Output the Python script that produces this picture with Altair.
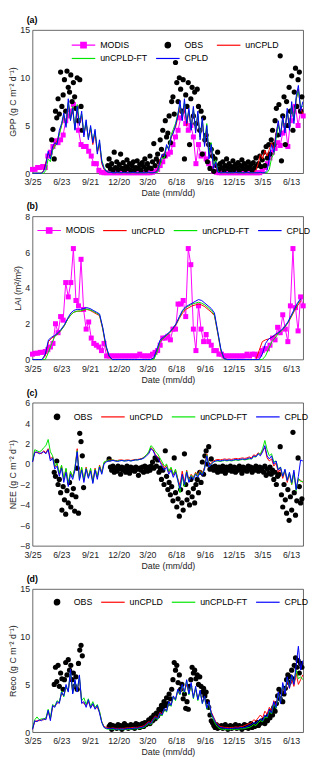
import altair as alt
import pandas as pd

FONT = "Liberation Sans"

TICK_DAYS = [0, 90, 180, 270, 360, 450, 540, 630, 720, 810]
TICK_LABELS = ["3/25", "6/23", "9/21", "12/20", "3/20", "6/18", "9/16", "12/15", "3/15", "6/13"]

DAYS7 = list(range(0, 848, 7))    # model GPP / NEE / Reco samples
DAYS10 = list(range(0, 841, 10))  # model LAI samples
DAYS8 = list(range(0, 849, 8))    # MODIS 8-day composites
DAYS4 = list(range(0, 845, 4))    # observation samples

# ---------------- (a) GPP ----------------
GPP_MODIS = [0.4, 0.4, 0.6, 0.6, 0.7, 0.6, 1.8, 2.2, 2.8, 3.4,
             3.2, 3.5, 4.0, 5.5, 6.0, 6.5, 7.2, 6.8, 4.5, 3.0,
             2.8, 2.8, 2.3, 1.8, 1.0, 1.0, 0.3, 0.1, 0.05, 0.05,
             0.05, 0.05, 0.05, 0.05, 0.05, 0.05, 0.05, 0.05, 0.05, 0.05,
             0.05, 0.05, 0.05, 0.05, 0.05, 0.05, 0.05, 0.1, 0.2, 0.4,
             0.8, 1.2, 1.8, 2.0, 2.2, 3.0, 3.8, 4.5, 5.8, 6.5,
             5.2, 4.5, 5.0, 3.8, 1.0, 3.0, 1.8, 2.0, 1.5, 1.0,
             0.5, 0.2, 0.1, 0.05, 0.05, 0.05, 0.05, 0.05, 0.05, 0.05,
             0.05, 0.05, 0.05, 0.05, 0.05, 0.05, 0.05, 0.05, 0.05, 0.05,
             0.2, 0.6, 1.0, 1.6, 2.2, 2.6, 3.2, 2.9, 4.2, 5.0,
             2.8, 5.5, 6.5, 7.0, 5.0, 6.5, 6.0]

GPP_OBS = [None, None, None, None, None, None, None, None, None, None,
           None, None, None, None, None,
           3.5, 4.6, 1.5, 6.5, 5.8, 7.8, 6.2, 10.6, 7.0, 8.2, 9.8, 6.5, 10.7, 9.0, 8.5,
           10.3, 7.5, 9.5, 8.0, 6.8, 10.0, 5.5, 9.8, 7.0, 4.5,
           None, None, None, None, None, None, None, None, None, None,
           None, None, None, None, None, None, None, None, None,
           0.8, 1.5, 0.5, 1.0, 0.3, 2.2, 0.6, 1.2, 0.4, 0.9, 2.0, 0.5, 1.1, 0.3, 0.7,
           1.4, 0.5, 1.0, 0.3, 0.8, 1.2, 0.4, 0.6, 1.3, 0.5, 0.9, 0.3, 1.1, 0.7, 1.5,
           0.4, 1.0, 0.6, 1.8, 0.5, 1.2, 3.1, 0.8, 1.5,
           2.0, 1.2, 3.5, 2.5, 4.5, 1.8, 5.5, 3.8, 4.2, 6.0, 3.2, 7.5,
           8.0, 6.2, 11.6, 9.5, 7.5, 10.0, 8.8, 6.5, 9.8, 1.5, 8.2, 7.0, 9.5, 3.0, 7.8,
           9.0, 6.0, 8.5, 5.2, 8.8, 7.0, 4.5, 6.5, 2.0, 5.8, 3.5,
           4.0, 1.2, 3.0, 0.5, 2.5, 1.8, 0.2, 1.5, 0.8, 2.2, 0.4, 1.0,
           0.6, 1.2, 0.3, 0.8, 1.5, 0.5, 1.0, 0.3, 0.7, 1.3, 0.4, 0.9, 0.6, 1.1, 0.3,
           0.8, 1.4, 0.5, 1.0, 0.4, 0.7, 1.2, 0.5, 0.9, 0.3, 1.1, 0.6, 1.6, 0.8, 1.0,
           1.8, 0.7,
           1.4, 2.2, 0.8, 2.8, 1.6, 3.0, 2.0, 3.5, 4.5, 3.0,
           5.5, 6.8, 4.0, 7.2, 12.3, 1.3, 6.0, 8.0, 3.0, 7.5, 5.0, 9.0, 6.5, 10.2, 4.5,
           8.5, 11.0, 7.0, 9.8, 10.6, 6.5, 8.0]

GPP_UNCPLD = [0, 0, 0, 0, 0, 0.3, 1.2, 2.0, 1.8, 2.6,
              3.0, 3.4, 4.2, 5.0, 6.0, 5.2, 7.2, 5.8, 6.5, 4.8,
              6.6, 5.2, 6.0, 4.0, 5.2, 3.8, 4.6, 3.0, 4.2, 2.2,
              3.0, 1.0, 0.4, 0.2, 0.1, 0.1, 0.05, 0.05, 0.05, 0.05,
              0.05, 0.05, 0.05, 0.05, 0.05, 0.05, 0.05, 0.05, 0.05, 0.05,
              0.05, 0.05, 0.05, 0.05, 0.05, 0.1, 0.4, 1.4, 1.8, 2.0,
              2.8, 2.6, 3.6, 4.4, 4.8, 5.8, 7.0, 5.8, 7.2, 5.0,
              6.5, 4.8, 6.6, 4.4, 6.0, 3.8, 5.4, 3.0, 4.6, 1.8,
              2.6, 0.6, 1.0, 0.1, 0.05, 0.05, 0.05, 0.05, 0.05, 0.05,
              0.05, 0.05, 0.05, 0.05, 0.05, 0.05, 0.05, 0.05, 0.05, 0.05,
              0.3, 1.0, 2.0, 1.5, 2.4, 1.8, 2.5, 3.2, 2.6, 4.2,
              5.2, 4.0, 5.8, 4.5, 6.5, 4.8, 7.2, 5.5, 7.6, 8.8,
              6.8, 6.2]
GPP_FT = [0, 0, 0, 0, 0, 0, 0.3, 1.5, 1.2, 2.4,
          2.8, 3.2, 4.0, 5.0, 6.2, 5.0, 7.4, 5.6, 7.0, 4.6,
          7.2, 5.4, 6.2, 4.2, 5.4, 3.6, 4.8, 3.4, 4.4, 2.4,
          3.2, 1.4, 0.6, 0.3, 0.1, 0.1, 0.05, 0.05, 0.05, 0.05,
          0.05, 0.05, 0.05, 0.05, 0.05, 0.05, 0.05, 0.05, 0.05, 0.05,
          0.05, 0.05, 0.05, 0.05, 0.05, 0.05, 0.1, 0.8, 1.6, 1.6,
          2.8, 2.6, 4.0, 4.6, 5.2, 6.2, 7.2, 5.8, 7.4, 5.4,
          6.6, 4.6, 6.8, 4.6, 6.2, 3.8, 5.6, 3.2, 5.2, 2.0,
          3.2, 0.8, 1.4, 0.2, 0.05, 0.05, 0.05, 0.05, 0.05, 0.05,
          0.05, 0.05, 0.05, 0.05, 0.05, 0.05, 0.05, 0.05, 0.05, 0.05,
          0.05, 0.05, 0.05, 0.05, 0.05, 0.05, 0.4, 1.6, 2.0, 3.6,
          5.0, 4.2, 5.6, 4.6, 6.4, 5.0, 7.0, 5.6, 7.8, 8.6,
          7.0, 7.0]
GPP_CPLD = [0, 0, 0, 0, 0, 0.2, 1.0, 2.3, 1.5, 2.8,
            3.2, 3.0, 4.5, 5.2, 6.3, 4.8, 7.8, 5.5, 6.8, 4.5,
            7.0, 5.0, 6.5, 3.8, 5.6, 3.5, 5.0, 3.2, 4.6, 2.0,
            3.5, 1.2, 0.5, 0.2, 0.1, 0.1, 0.05, 0.05, 0.1, 0.05,
            0.05, 0.1, 0.05, 0.05, 0.05, 0.1, 0.05, 0.05, 0.05, 0.05,
            0.05, 0.05, 0.1, 0.05, 0.05, 0.1, 0.3, 1.2, 2.0, 1.8,
            3.0, 2.4, 3.8, 4.2, 5.0, 6.0, 7.6, 5.5, 7.8, 5.2,
            6.8, 4.5, 7.0, 4.2, 6.5, 3.5, 5.8, 2.8, 5.0, 1.5,
            3.0, 0.5, 1.2, 0.1, 0.05, 0.05, 0.1, 0.05, 0.05, 0.05,
            0.05, 0.1, 0.05, 0.05, 0.05, 0.05, 0.1, 0.05, 0.05, 0.05,
            0.05, 0.05, 0.1, 0.05, 0.05, 0.3, 1.5, 3.0, 2.2, 4.0,
            5.5, 3.8, 6.0, 4.2, 6.8, 4.5, 7.5, 5.2, 8.0, 9.2,
            6.5, 7.5]

# ---------------- (b) LAI ----------------
LAI_MODIS = [0.3, 0.35, 0.35, 0.4, 0.4, 0.45, 0.55, 0.7, 0.9, 2.0,
             1.5, 2.4, 2.2, 4.3, 3.5, 4.3, 6.2, 3.3, 3.0, 5.6,
             2.8, 1.7, 2.1, 1.2, 0.9, 0.8, 0.7, 0.5, 0.9, 0.2,
             0.2, 0.2, 0.2, 0.2, 0.2, 0.2, 0.2, 0.2, 0.2, 0.2,
             0.2, 0.2, 0.3, 0.2, 0.2, 0.2, 0.2, 0.3, 0.4, 0.5,
             0.8, 1.2, 1.2, 1.3, 1.1, 1.7, 1.7, 3.1, 3.1, 3.3,
             2.4, 6.2, 5.3, 1.7, 0.5, 3.0, 1.7, 1.0, 1.4, 1.0,
             0.8, 0.5, 0.5, 0.3, 0.3, 0.2, 0.2, 0.2, 0.2, 0.2,
             0.2, 0.2, 0.2, 0.2, 0.3, 0.2, 0.3, 0.3, 0.2, 0.3,
             0.5, 0.6, 0.6, 0.8, 1.2, 1.1, 1.8, 1.5, 2.5, 1.7,
             1.0, 3.0, 6.2, 2.9, 1.6, 3.5, 3.0]
LAI_UNCPLD = [0, 0, 0, 0, 0.2, 1.0, 1.2, 1.3, 1.45, 1.65,
              1.9, 2.25, 2.5, 2.65, 2.7, 2.7, 2.75, 2.8, 2.75, 2.65,
              2.55, 2.45, 1.7, 0.7, 0.15, 0, 0, 0, 0, 0,
              0, 0, 0, 0, 0, 0, 0, 0, 0.05, 0.5,
              1.0, 1.2, 1.35, 1.5, 1.7, 1.95, 2.3, 2.6, 2.8, 2.9,
              3.0, 3.05, 3.1, 3.05, 2.95, 2.8, 2.65, 2.45, 1.5, 0.5,
              0.05, 0, 0, 0, 0, 0, 0, 0, 0, 0,
              0, 0.5, 1.0, 1.1, 1.15, 1.25, 1.35, 1.5, 1.6, 1.8,
              2.05, 2.35, 2.7, 3.0, 3.25]
LAI_FT = [0, 0, 0, 0, 0, 0.4, 0.9, 1.3, 1.45, 1.65,
          1.9, 2.25, 2.5, 2.65, 2.7, 2.72, 2.78, 2.82, 2.78, 2.7,
          2.6, 2.5, 1.75, 0.75, 0.2, 0, 0, 0, 0, 0,
          0, 0, 0, 0, 0, 0, 0, 0, 0, 0.4,
          1.0, 1.2, 1.35, 1.5, 1.75, 2.0, 2.35, 2.7, 2.9, 3.0,
          3.1, 3.15, 3.2, 3.15, 3.05, 2.9, 2.75, 2.5, 1.55, 0.55,
          0.05, 0, 0, 0, 0, 0, 0, 0, 0, 0,
          0, 0, 0, 0.2, 0.6, 1.0, 1.2, 1.45, 1.6, 1.8,
          2.05, 2.4, 2.75, 3.1, 3.35]
LAI_CPLD = [0, 0, 0, 0, 0.3, 1.1, 1.25, 1.35, 1.5, 1.7,
            1.95, 2.3, 2.6, 2.75, 2.8, 2.8, 2.85, 2.9, 2.85, 2.75,
            2.65, 2.55, 1.8, 0.8, 0.2, 0, 0, 0, 0, 0,
            0, 0, 0, 0, 0, 0, 0, 0, 0.1, 0.6,
            1.1, 1.25, 1.4, 1.55, 1.75, 2.0, 2.4, 2.75, 2.95, 3.05,
            3.15, 3.25, 3.35, 3.3, 3.15, 3.0, 2.85, 2.6, 1.6, 0.6,
            0.05, 0, 0, 0, 0, 0, 0, 0, 0, 0,
            0, 0, 0.3, 0.9, 1.15, 1.25, 1.4, 1.5, 1.65, 1.85,
            2.1, 2.45, 2.8, 3.15, 3.4]

# ---------------- (c) NEE ----------------
NEE_OBS = [None, None, None, None, None, None, None, None, None, None,
           None, None, None, None, None, None, None,
           -0.8, -1.2, 0.3, -2.0, -1.5, -2.8, -4.5, -2.2, -3.5, -4.9, -2.6, -3.8,
           -1.8, -4.2, -3.0, -2.4, -4.6, -3.2, -0.4, -4.8, 3.0, 2.2, 0.8, -2.3,
           None, None, None, None, None, None, None, None, None, None,
           None, None, None, None, None, None, None, None, None,
           0.5, -0.3, -0.6, -0.2, -0.8, -0.4, -0.7, -0.2, -0.5, -1.0,
           -0.3, -0.6, -0.4, -0.8, -0.2, -0.5, -0.9, -0.3, -0.6, -0.4,
           -0.7, -0.3, -0.5, -1.1, -0.4, -0.6, -0.3, -0.8, -0.2, -0.5,
           -0.7, -0.3, -0.6, -0.2, 0.2, -0.4, 0.6,
           -0.2, 0.4, -0.8, -0.4, -1.5, -0.6, -2.0, 1.3, -1.2, -2.5,
           -1.8, -3.0, -2.2, -3.6, 0.6, -2.8, -4.2, -3.4, -5.1, -2.5, -3.8,
           -4.5, 1.0, -2.0, -3.5, -2.8, -4.0, -1.5, -3.2, -2.4, -3.8, -2.0,
           -1.5, -2.8, -0.8, -1.8, 0.2, -1.0, 0.8, 1.3, 0.0, 1.7, -0.5, 0.5,
           -0.3, -0.6, -0.2, -0.5, -0.8, -0.3, -0.4, -0.7, -0.2, -0.5,
           -0.9, -0.3, -0.6, -0.4, -0.2, -0.7, -0.5, -0.3, -0.8, -0.4,
           -0.6, -0.2, -0.5, -0.9, -0.3, -0.6, -0.4, -0.7, -0.2, -0.5,
           -0.3, -0.8, -0.4, -0.6, -0.2, -0.5, -0.7, -0.3, -0.6,
           -0.4, -0.8, -0.2, -1.1, -0.5, -0.9, -0.3, -1.0, -0.6, -1.5,
           -0.8, -2.0, -1.2, -1.0, 1.7,
           -3.0, -4.2, -2.0, -3.5, -4.8, -2.5, -5.5, -3.2, -4.5, 3.1,
           -2.8, -5.0, -3.6, 0.6, -2.2, -3.8, -3.4]
NEE_UNCPLD = [0.2, 1.2, 1.1, 1.1, 1.0, 1.3, 1.1, 1.5, 0.5, 0.7,
              -0.3, 0.0, -1.0, -0.2, -1.5, -0.5, -2.0, -0.8, -1.2, -0.4,
              1.5, -1.4, -0.4, -1.6, -0.3, -1.2, -0.5, -1.7, -0.4, -1.3,
              -0.1, -0.8, 0.1, 0.3, 0.4, 0.4, 0.4, 0.35, 0.35, 0.4,
              0.4, 0.35, 0.4, 0.4, 0.35, 0.4, 0.45, 0.45, 0.5, 0.55,
              0.7, 0.9, 1.1, 1.6, 1.4, 0.9, 0.7, 0.3, 0.0, -0.4,
              -0.1, -0.8, -0.4, -1.1, -0.6, -1.4, -2.1, -0.7, -1.8, -0.6,
              -1.6, -1.0, -1.3, -0.8, -1.1, -0.6, -0.9, -0.3, 1.0, -0.1,
              0.1, 0.3, 0.4, 0.45, 0.4, 0.45, 0.5, 0.45, 0.5, 0.45,
              0.5, 0.55, 0.5, 0.55, 0.6, 0.55, 0.6, 0.7, 0.6, 0.9,
              0.8, 1.1, 0.9, 1.3, 1.6, 0.6, 0.3, 0.5, -0.2, 0.1,
              -0.8, -0.5, -1.4, -0.7, -1.8, -1.0, -2.0, -0.8, -2.4, -1.5,
              -1.6, -1.8]
NEE_FT = [0.3, 1.4, 1.3, 1.2, 1.3, 1.6, 1.8, 2.4, 1.2, 0.8,
          -0.2, 0.1, -0.9, -0.1, -1.4, -0.4, -1.9, -0.7, -1.3, -0.3,
          1.3, -1.5, -0.3, -1.5, -0.4, -1.3, -0.4, -1.8, -0.5, -1.2,
          -0.2, -0.9, 0.2, 0.3, 0.4, 0.35, 0.4, 0.3, 0.3, 0.35,
          0.35, 0.3, 0.35, 0.35, 0.3, 0.35, 0.4, 0.4, 0.45, 0.5,
          0.7, 0.9, 1.2, 1.8, 1.6, 1.2, 1.0, 0.6, 0.2, -0.2,
          0.0, -0.7, -0.3, -1.0, -0.5, -1.5, -2.8, -1.2, -2.2, -0.7,
          -1.7, -1.1, -1.4, -0.9, -1.2, -0.7, -1.0, -0.4, 0.9, -0.2,
          0.0, 0.2, 0.3, 0.3, 0.25, 0.3, 0.35, 0.3, 0.35, 0.3,
          0.35, 0.4, 0.35, 0.4, 0.45, 0.4, 0.45, 0.5, 0.5, 0.7,
          0.7, 1.0, 1.0, 1.5, 2.3, 1.4, 0.8, 1.0, 0.2, 0.3,
          -0.5, -0.3, -1.2, -0.6, -1.6, -0.9, -2.0, -0.9, -2.6, -1.4,
          -1.7, -1.7]
NEE_CPLD = [0.2, 1.1, 1.2, 1.0, 1.1, 1.2, 1.0, 1.4, 0.3, 0.6,
            -0.5, -0.2, -1.2, -0.4, -1.8, -0.8, -2.2, -1.0, -1.5, -0.6,
            1.2, -1.6, -0.6, -1.8, -0.5, -1.4, -0.7, -1.9, -0.6, -1.5,
            -0.3, -1.0, 0.0, 0.2, 0.3, 0.3, 0.35, 0.3, 0.25, 0.3,
            0.35, 0.3, 0.3, 0.35, 0.3, 0.35, 0.4, 0.4, 0.45, 0.5,
            0.6, 0.8, 1.0, 1.5, 1.3, 0.8, 0.6, 0.2, -0.2, -0.6,
            -0.3, -1.0, -0.6, -1.3, -0.8, -1.6, -2.4, -1.0, -2.0, -0.8,
            -1.8, -1.2, -1.5, -1.0, -1.3, -0.8, -1.1, -0.5, 0.8, -0.3,
            0.0, 0.2, 0.3, 0.35, 0.3, 0.35, 0.4, 0.35, 0.4, 0.35,
            0.4, 0.45, 0.4, 0.45, 0.5, 0.45, 0.5, 0.6, 0.5, 0.8,
            0.7, 1.0, 0.8, 1.2, 1.8, 0.8, 0.5, 0.8, 0.0, 0.3,
            -0.6, -0.3, -1.2, -0.5, -1.6, -0.8, -1.8, -0.6, -2.5, -1.2,
            0.4, 0.3]

# ---------------- (d) Reco ----------------
RECO_OBS = [None, None, None, None, None, None, None, None, None, None,
            None, None, None, None, None, None, None,
            5.0, 6.8, 5.3, 7.0, 4.8, 6.2, 5.6, 4.5, 5.5, 7.3, 6.0, 7.6,
            6.5, 7.0, 5.5, 6.2, 4.8, 5.8, 4.5, 7.2, 8.6, 9.1, 8.0,
            None, None, None, None, None, None, None, None, None, None,
            None, None, None, None, None, None, None, None, None, None,
            0.6, 0.8, 0.3, 0.7, 0.5, 0.6, 0.4, 0.8, 0.5, 0.7,
            0.3, 0.6, 0.9, 0.5, 0.7, 0.4, 0.6, 0.8, 0.5, 0.7,
            0.4, 0.9, 0.6, 0.8, 0.5, 0.7, 0.9, 0.6, 1.0, 0.8,
            1.0, 1.3, 0.9, 1.5, 1.2, 1.8, 1.4, 2.0, 1.7, 2.4,
            2.0, 2.8, 2.4, 3.2, 2.8, 3.6, 3.0, 4.0, 3.5,
            4.5, 5.5, 7.3, 6.5, 7.0, 5.2, 6.0, 4.5, 5.0, 3.5,
            4.0, 2.5, 3.2, 2.4, 4.8, 5.5, 6.8, 6.2, 6.5, 5.6,
            6.0, 5.0, 5.8, 4.8, 4.2, 4.6, 3.8, 4.2, 3.2, 2.6,
            1.8, 1.2,
            1.0, 0.7, 0.5, 0.8, 0.4, 0.6,
            0.5, 0.7, 0.4, 0.6, 0.8, 0.5, 0.3, 0.6, 0.7, 0.4,
            0.6, 0.5, 0.8, 0.4, 0.6, 0.7, 0.5, 0.3, 0.6, 0.8,
            0.5, 0.7, 0.4, 0.6, 0.9, 0.5, 0.7, 0.6, 0.8, 1.0,
            0.7, 0.9, 1.1,
            1.0, 1.3, 0.9, 1.5, 1.2, 1.8, 1.5, 2.2, 1.8, 2.6,
            2.2, 3.0, 3.8, 4.5, 3.5, 4.2, 3.2, 4.0, 4.6, 5.5,
            6.0, 5.2, 5.8, 6.5, 5.6, 7.0, 7.8, 6.8, 7.5, 6.2,
            7.2, 6.8]
RECO_UNCPLD = [0.3, 1.1, 1.2, 1.2, 1.3, 1.3, 1.4, 2.2, 1.4, 2.6,
               2.8, 3.0, 3.2, 4.0, 3.9, 4.6, 4.4, 6.0, 4.2, 5.2,
               4.4, 5.6, 3.2, 3.0, 2.8, 3.2, 2.6, 2.9, 2.5, 2.6,
               2.1, 1.1, 0.6, 0.5, 0.45, 0.4, 0.45, 0.4, 0.4, 0.4,
               0.4, 0.4, 0.45, 0.45, 0.45, 0.5, 0.5, 0.5, 0.55, 0.6,
               0.7, 0.9, 1.1, 1.0, 1.4, 1.7, 1.5, 2.1, 1.9, 2.4,
               2.3, 3.0, 2.9, 3.6, 3.5, 4.2, 4.0, 4.6, 4.3, 5.0,
               4.1, 4.8, 3.8, 4.5, 3.5, 4.2, 3.2, 3.6, 2.6, 3.0,
               2.1, 1.6, 1.1, 0.8, 0.6, 0.55, 0.5, 0.5, 0.45, 0.5,
               0.5, 0.55, 0.5, 0.6, 0.6, 0.7, 0.8, 0.9, 1.0, 1.3,
               1.2, 1.5, 1.8, 1.5, 2.2, 1.9, 2.6, 2.2, 3.3, 2.8,
               4.0, 3.2, 4.8, 4.1, 5.4, 4.6, 5.6, 4.8, 6.2, 5.0,
               5.5, 6.0]
RECO_FT = [0.4, 1.3, 1.6, 1.3, 1.4, 1.4, 1.5, 2.4, 1.5, 2.9,
           2.7, 3.3, 3.1, 4.3, 3.7, 4.8, 4.3, 6.3, 4.1, 5.4,
           4.3, 5.8, 3.3, 3.6, 2.9, 3.5, 2.7, 3.2, 2.6, 2.9,
           2.2, 1.1, 0.5, 0.35, 0.3, 0.3, 0.3, 0.25, 0.3, 0.25,
           0.3, 0.25, 0.3, 0.3, 0.3, 0.35, 0.35, 0.35, 0.4, 0.45,
           0.5, 0.7, 0.9, 0.8, 1.2, 1.5, 1.3, 1.9, 1.7, 2.4,
           2.1, 3.1, 2.7, 3.7, 3.3, 4.4, 3.9, 4.9, 4.1, 5.4,
           3.9, 5.0, 3.5, 4.6, 3.3, 4.3, 3.0, 3.7, 2.4, 3.1,
           1.9, 1.3, 0.8, 0.5, 0.35, 0.3, 0.3, 0.25, 0.25, 0.3,
           0.3, 0.3, 0.3, 0.35, 0.35, 0.4, 0.45, 0.5, 0.6, 0.8,
           0.7, 1.0, 1.2, 1.1, 1.6, 1.5, 2.2, 1.9, 3.0, 2.5,
           4.0, 3.1, 5.0, 4.2, 5.6, 4.8, 5.9, 5.2, 6.5, 5.6,
           5.8, 5.5]
RECO_CPLD = [0.3, 1.2, 1.1, 1.3, 1.2, 1.4, 1.3, 2.3, 1.2, 2.8,
             2.6, 3.2, 3.0, 4.2, 3.8, 5.0, 4.2, 6.6, 4.0, 5.5,
             4.2, 6.0, 3.0, 3.2, 2.6, 3.4, 2.5, 3.0, 2.4, 2.8,
             2.0, 1.0, 0.5, 0.4, 0.4, 0.35, 0.4, 0.3, 0.35, 0.3,
             0.35, 0.3, 0.35, 0.4, 0.35, 0.4, 0.45, 0.4, 0.5, 0.5,
             0.6, 0.8, 1.0, 0.9, 1.3, 1.6, 1.4, 2.0, 1.8, 2.5,
             2.2, 3.2, 2.8, 3.8, 3.4, 4.5, 4.0, 5.0, 4.2, 5.5,
             4.0, 5.2, 3.6, 4.8, 3.4, 4.4, 3.0, 3.8, 2.5, 3.2,
             2.0, 1.5, 1.0, 0.7, 0.5, 0.45, 0.4, 0.4, 0.35, 0.4,
             0.4, 0.45, 0.4, 0.5, 0.45, 0.5, 0.6, 0.7, 0.8, 1.0,
             0.9, 1.2, 1.4, 1.2, 1.8, 1.6, 2.4, 2.0, 3.2, 2.6,
             4.2, 3.0, 5.2, 4.0, 5.8, 4.6, 6.0, 5.0, 7.0, 9.0,
             6.5, 7.5]

COLORS = {"MODIS": "#ff00ff", "OBS": "#000000", "unCPLD": "#ff0000",
          "unCPLD-FT": "#00e600", "CPLD": "#0000ff"}
# legend glyphs (MATLAB style: long line, marker in the middle)
LINE_SYM = "M-1,0L5,0"
SYMS = {"MODIS": "M-1,0L5,0M1.3,-0.7L2.7,-0.7L2.7,0.7L1.3,0.7Z",
        "OBS": "M2.7,0A0.7,0.7,0,1,1,1.3,0A0.7,0.7,0,1,1,2.7,0Z",
        "unCPLD": LINE_SYM, "unCPLD-FT": LINE_SYM, "CPLD": LINE_SYM}

LABEL_EXPR = "[" + ",".join("'%s'" % t for t in TICK_LABELS) + "][round(datum.value/90)]"

PW, PH = 276, 146


def frame(days, values, name):
    assert len(days) == len(values), (name, len(days), len(values))
    df = pd.DataFrame({"day": days, "value": values})
    df["series"] = name
    return df.dropna()


def panel(tag, ytitle, ydom, yvals, order, models, modis=None, obs=None,
          lx=0, ly=0, cols=4):
    leg = alt.Legend(orient="none", legendX=lx, legendY=ly, columns=cols, title=None,
                     direction="horizontal",
                     symbolSize=64, symbolStrokeWidth=1.2, symbolOpacity=1,
                     labelFont=FONT, labelFontSize=9, labelColor="black",
                     labelOffset=20, columnPadding=5, rowPadding=3)
    cscale = alt.Scale(domain=order, range=[COLORS[s] for s in order])
    sscale = alt.Scale(domain=order, range=[SYMS[s] for s in order])
    x = alt.X("day:Q", scale=alt.Scale(domain=[0, 848], nice=False, zero=False),
              axis=alt.Axis(values=TICK_DAYS, labelExpr=LABEL_EXPR, title="Date (mm/dd)",
                            labelPadding=5, titlePadding=2))
    y = alt.Y("value:Q", scale=alt.Scale(domain=ydom, nice=False, zero=False),
              axis=alt.Axis(values=yvals, title=ytitle, labelPadding=3, titlePadding=2))
    color = alt.Color("series:N", scale=cscale, legend=leg)
    layers = []
    if modis is not None:
        df = frame(DAYS8, modis, "MODIS")
        layers.append(alt.Chart(df).mark_line(strokeWidth=1).encode(x=x, y=y, color=color))
        layers.append(alt.Chart(df).mark_point(shape="square", filled=True, size=26, opacity=1)
                      .encode(x=x, y=y, color=color))
    if obs is not None:
        df = frame(DAYS4, obs, "OBS")
        layers.append(alt.Chart(df).mark_circle(size=28, opacity=1).encode(x=x, y=y, color=color))
    for name, (days, vals) in models:
        df = frame(days, vals, name)
        layers.append(alt.Chart(df).mark_line(strokeWidth=1).encode(x=x, y=y, color=color))
    dummy = pd.DataFrame({"series": order, "day": [None] * len(order), "value": [None] * len(order)})
    layers.append(alt.Chart(dummy).mark_point(filled=True, opacity=1).encode(
        x=x, y=y, color=color, shape=alt.Shape("series:N", scale=sscale, legend=leg)))
    title = alt.TitleParams(tag, anchor="start", frame="group", dx=-6, offset=1,
                            font=FONT, fontSize=9, fontWeight="bold", color="black")
    return alt.layer(*layers).properties(width=PW, height=PH, title=title)


a = panel("(a)", "GPP (g C m⁻² d⁻¹)", [0, 15], [0, 5, 10, 15],
          ["MODIS", "OBS", "unCPLD", "unCPLD-FT", "CPLD"],
          [("unCPLD", (DAYS7, GPP_UNCPLD)), ("unCPLD-FT", (DAYS7, GPP_FT)), ("CPLD", (DAYS7, GPP_CPLD))],
          modis=GPP_MODIS, obs=GPP_OBS, lx=39, ly=10, cols=3)
b = panel("(b)", "LAI (m²/m²)", [0, 8], [0, 2, 4, 6, 8],
          ["MODIS", "unCPLD", "unCPLD-FT", "CPLD"],
          [("unCPLD", (DAYS10, LAI_UNCPLD)), ("unCPLD-FT", (DAYS10, LAI_FT)), ("CPLD", (DAYS10, LAI_CPLD))],
          modis=LAI_MODIS, lx=4, ly=9, cols=4)
c = panel("(c)", "NEE (g C m⁻² d⁻¹)", [-8, 6], [-8, -6, -4, -2, 0, 2, 4, 6],
          ["OBS", "unCPLD", "unCPLD-FT", "CPLD"],
          [("unCPLD", (DAYS7, NEE_UNCPLD)), ("unCPLD-FT", (DAYS7, NEE_FT)), ("CPLD", (DAYS7, NEE_CPLD))],
          obs=NEE_OBS, lx=12, ly=9, cols=4)
d = panel("(d)", "Reco (g C m⁻² d⁻¹)", [0, 15], [0, 5, 10, 15],
          ["OBS", "unCPLD", "unCPLD-FT", "CPLD"],
          [("unCPLD", (DAYS7, RECO_UNCPLD)), ("unCPLD-FT", (DAYS7, RECO_FT)), ("CPLD", (DAYS7, RECO_CPLD))],
          obs=RECO_OBS, lx=12, ly=8, cols=4)

chart = (
    alt.vconcat(a, b, c, d, spacing=3)
    .resolve_scale(color="independent", shape="independent")
    .resolve_legend(color="independent", shape="independent")
    .properties(padding={"left": 0, "top": 0, "right": 0, "bottom": 0})
    .configure_view(stroke="#404040", strokeWidth=0.8)
    .configure_axis(grid=False, ticks=False, domain=False, labelFont=FONT, titleFont=FONT,
                    labelFontSize=9, titleFontSize=9, labelColor="#262626", titleColor="#262626",
                    titleFontWeight="normal", labelFlush=False)
)

chart.save("out.html", embed_options={"renderer": "svg", "actions": False})
